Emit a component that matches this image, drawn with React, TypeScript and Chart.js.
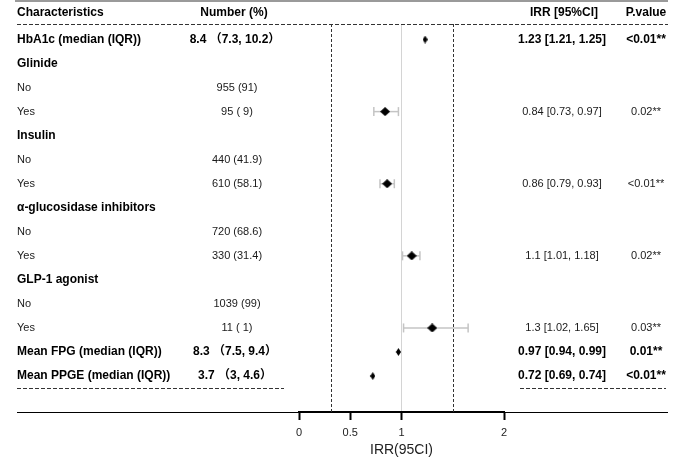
import { useEffect, useRef } from "react";
import { Chart, registerables } from "chart.js";
Chart.register(...registerables);

const FAMILY = '"Liberation Sans", Arial, "Noto Sans CJK SC", sans-serif';

const headers = ["Characteristics", "Number (%)", "IRR [95%CI]", "P.value"];
const characteristics = [
  "HbA1c (median (IQR))", "Glinide", "No", "Yes", "Insulin", "No", "Yes",
  "α-glucosidase inhibitors", "No", "Yes", "GLP-1 agonist", "No", "Yes",
  "Mean FPG (median (IQR))", "Mean PPGE (median (IQR))",
];
const numbers = [
  "8.4 （7.3, 10.2）", "", "955 (91)", "95 ( 9)", "", "440 (41.9)", "610 (58.1)",
  "", "720 (68.6)", "330 (31.4)", "", "1039 (99)", "11 ( 1)",
  "8.3 （7.5, 9.4）", "3.7 （3, 4.6）",
];
const irr: (number | null)[] = [1.23, null, null, 0.84, null, null, 0.86, null, null, 1.1, null, null, 1.3, 0.97, 0.72];
const lower: (number | null)[] = [1.21, null, null, 0.73, null, null, 0.79, null, null, 1.01, null, null, 1.02, 0.94, 0.69];
const upper: (number | null)[] = [1.25, null, null, 0.97, null, null, 0.93, null, null, 1.18, null, null, 1.65, 0.99, 0.74];
const irrText = [
  "1.23 [1.21, 1.25]", "", "", "0.84 [0.73, 0.97]", "", "", "0.86 [0.79, 0.93]",
  "", "", "1.1 [1.01, 1.18]", "", "", "1.3 [1.02, 1.65]",
  "0.97 [0.94, 0.99]", "0.72 [0.69, 0.74]",
];
const pText = [
  "<0.01**", "", "", "0.02**", "", "", "<0.01**", "", "", "0.02**", "", "", "0.03**",
  "0.01**", "<0.01**",
];
const boldRow = [true, true, false, false, true, false, false, true, false, false, true, false, false, true, true];
const xTicks = [0, 0.5, 1, 2];
const refLines = [0.31, 1.5];
const axisTitle = "IRR(95CI)";

export default function App() {
  const ref = useRef<HTMLCanvasElement>(null);
  useEffect(() => {
    const mk = (w: number, h: number) => {
      const c = document.createElement("canvas");
      c.width = w;
      c.height = h;
      const g = c.getContext("2d")!;
      g.fillStyle = "#000";
      g.beginPath();
      g.moveTo(w / 2, 0);
      g.lineTo(w, h / 2);
      g.lineTo(w / 2, h);
      g.lineTo(0, h / 2);
      g.closePath();
      g.fill();
      return c;
    };
    const small = mk(5, 8);
    const big = mk(10, 9);

    const pts: { x: number; y: number }[] = [];
    const styles: HTMLCanvasElement[] = [];
    irr.forEach((v, i) => {
      if (v != null) {
        pts.push({ x: v, y: i });
        styles.push(boldRow[i] ? small : big);
      }
    });

    const ciSets: any[] = [];
    irr.forEach((v, i) => {
      if (v != null && lower[i] != null && upper[i] != null) {
        ciSets.push({
          type: "scatter",
          data: [{ x: lower[i], y: i }, { x: upper[i], y: i }],
          showLine: true,
          borderColor: "#c4c4c4",
          borderWidth: 1.5,
          pointStyle: "line",
          rotation: 90,
          pointRadius: boldRow[i] ? 0 : 4.5,
          pointBorderColor: "#c4c4c4",
          pointBorderWidth: 1.5,
          order: 2,
        });
      }
    });

    const decor = {
      id: "decor",
      beforeDatasetsDraw(chart: any) {
        const ctx = chart.ctx;
        const { top, bottom } = chart.chartArea;
        const xs = chart.scales.x;
        const ys = chart.scales.y;
        ctx.save();
        ctx.strokeStyle = "#9a9a9a";
        ctx.lineWidth = 2;
        ctx.beginPath();
        ctx.moveTo(15, 1);
        ctx.lineTo(668, 1);
        ctx.stroke();
        ctx.strokeStyle = "#333";
        ctx.lineWidth = 1;
        ctx.setLineDash([4, 2]);
        ctx.beginPath();
        ctx.moveTo(17, top + 0.5);
        ctx.lineTo(668, top + 0.5);
        ctx.stroke();
        const yb = Math.round(ys.getPixelForValue(14.5)) + 0.5;
        ctx.beginPath();
        ctx.moveTo(17, yb);
        ctx.lineTo(284, yb);
        ctx.moveTo(520, yb);
        ctx.lineTo(666, yb);
        ctx.stroke();
        ctx.setLineDash([3, 2]);
        refLines.forEach((v) => {
          const x = Math.round(xs.getPixelForValue(v)) + 0.5;
          ctx.beginPath();
          ctx.moveTo(x, top);
          ctx.lineTo(x, bottom);
          ctx.stroke();
        });
        ctx.setLineDash([]);
        ctx.strokeStyle = "#000";
        ctx.lineWidth = 1;
        ctx.beginPath();
        ctx.moveTo(17, bottom + 0.5);
        ctx.lineTo(668, bottom + 0.5);
        ctx.stroke();
        ctx.restore();
      },
      afterDraw(chart: any) {
        const ctx = chart.ctx;
        const ys = chart.scales.y;
        ctx.save();
        ctx.textBaseline = "middle";
        ctx.fillStyle = "#000";
        const B = `bold 12px ${FAMILY}`;
        const R = `11px ${FAMILY}`;
        const hy = 13;
        ctx.font = B;
        ctx.textAlign = "left";
        ctx.fillText(headers[0], 17, hy);
        ctx.textAlign = "center";
        ctx.fillText(headers[1], 234, hy);
        ctx.fillText(headers[2], 564, hy);
        ctx.fillText(headers[3], 646, hy);
        characteristics.forEach((t, i) => {
          const y = ys.getPixelForValue(i);
          const b = boldRow[i];
          const isNum = i === 0 || i === 13 || i === 14;
          ctx.fillStyle = b ? "#000" : "#1a1a1a";
          ctx.font = b ? B : R;
          ctx.textAlign = "left";
          ctx.fillText(t, 17, y);
          ctx.textAlign = "center";
          ctx.font = isNum ? B : R;
          ctx.fillStyle = isNum ? "#000" : "#1a1a1a";
          if (numbers[i]) ctx.fillText(numbers[i], isNum ? 235 : 237, y);
          if (irrText[i]) ctx.fillText(irrText[i], 562, y);
          if (pText[i]) ctx.fillText(pText[i], 646, y);
        });
        ctx.restore();
      },
    };

    const chart = new Chart(ref.current!, {
      type: "scatter",
      data: {
        datasets: [
          {
            type: "scatter",
            data: pts,
            pointStyle: styles as any,
            pointRadius: 5,
            backgroundColor: "#000",
            borderColor: "#000",
            order: 0,
          } as any,
          ...ciSets,
        ],
      },
      options: {
        responsive: false,
        animation: false,
        events: [],
        devicePixelRatio: 1,
        layout: { padding: { left: 299, right: 181, top: 24, bottom: 0 } },
        plugins: { legend: { display: false }, tooltip: { enabled: false } },
        scales: {
          x: {
            type: "linear",
            min: 0,
            max: 2,
            afterBuildTicks: (s: any) => {
              s.ticks = xTicks.map((v) => ({ value: v }));
            },
            afterFit: (s: any) => {
              s.height = 51;
            },
            grid: {
              color: (c: any) => (c.tick && c.tick.value === 1 ? "#d4d4d4" : "rgba(0,0,0,0)"),
              lineWidth: 1,
              tickColor: "#000",
              tickLength: 8,
              tickWidth: 2,
              drawOnChartArea: true,
              drawTicks: true,
            } as any,
            border: { display: true, color: "#000", width: 2 },
            ticks: {
              font: { size: 11, family: FAMILY },
              color: "#222",
              padding: 6,
              autoSkip: false,
              maxRotation: 0,
              callback: (v: any) => String(v),
            },
            title: {
              display: true,
              text: axisTitle,
              font: { size: 14, family: FAMILY },
              color: "#222",
              padding: { top: 0, bottom: 4 },
            },
          },
          y: {
            type: "linear",
            display: false,
            min: -0.645,
            max: 15.497,
            reverse: true,
          },
        },
      },
      plugins: [decor],
    });
    return () => chart.destroy();
  }, []);

  return (
    <div style={{ position: "fixed", left: 0, top: 0, width: 685, height: 463, background: "#fff" }}>
      <canvas ref={ref} width={685} height={463} style={{ display: "block" }} />
    </div>
  );
}
